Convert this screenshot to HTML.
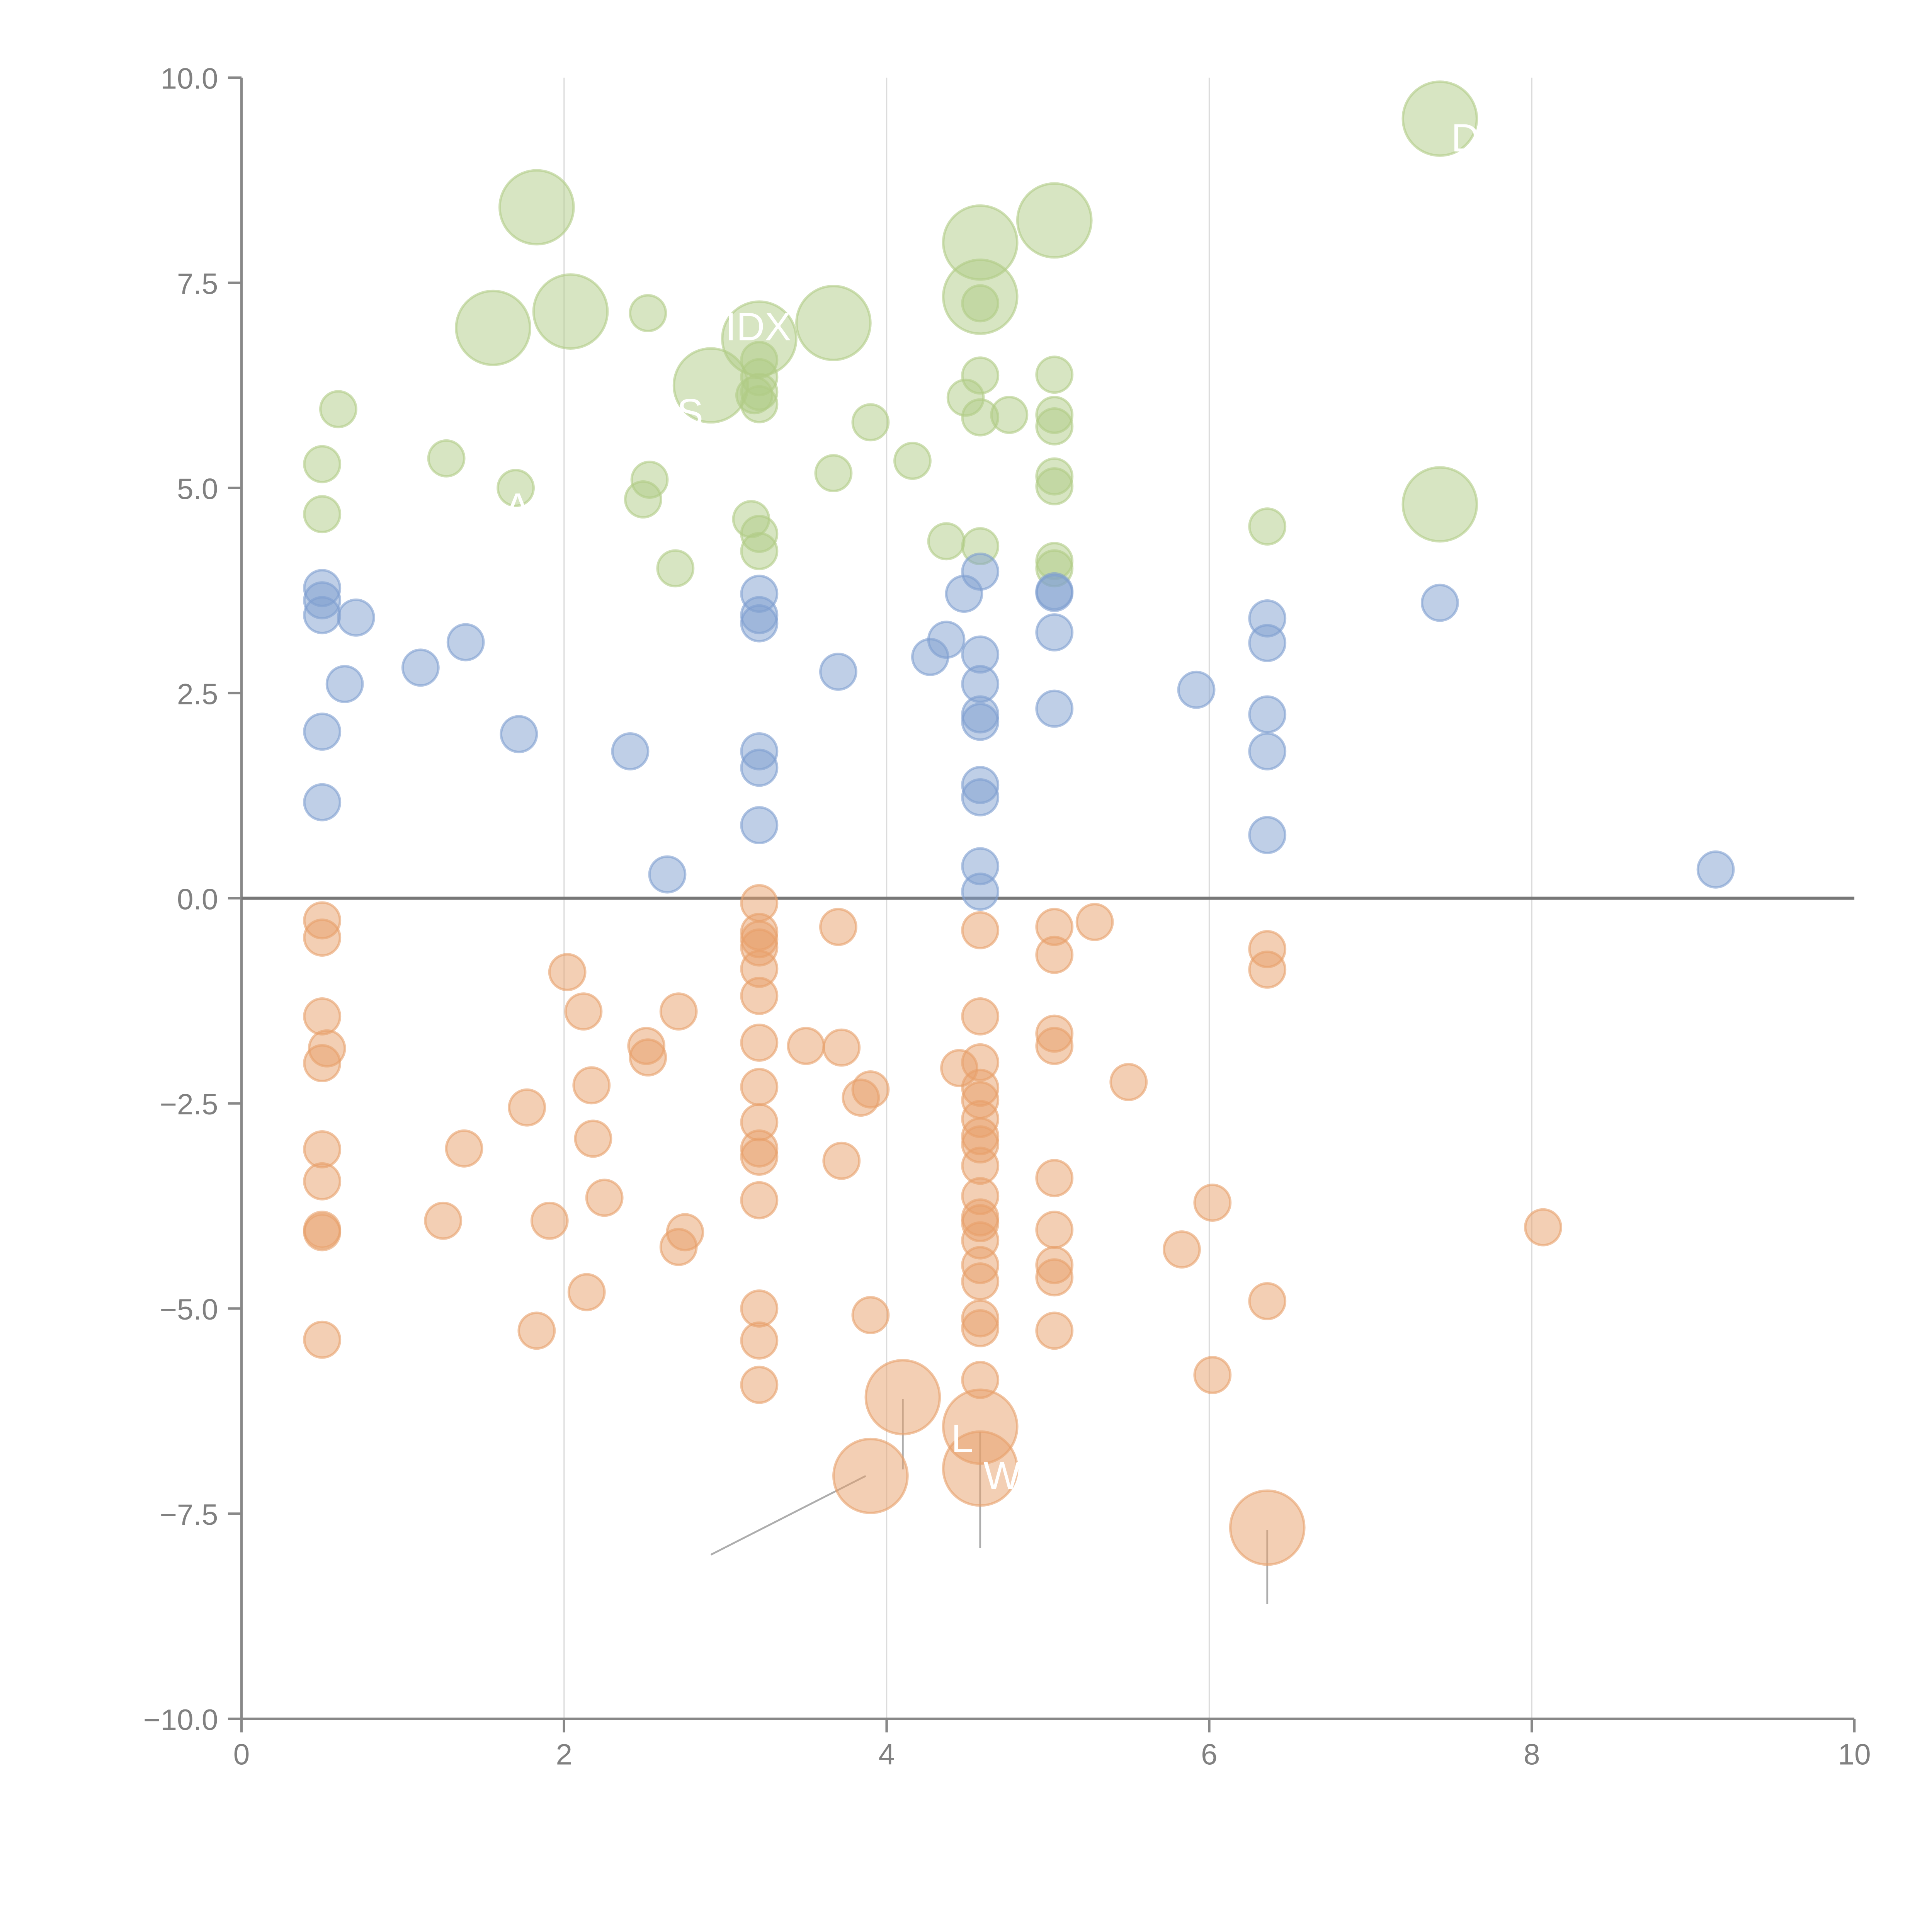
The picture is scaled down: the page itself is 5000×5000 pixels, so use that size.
<!DOCTYPE html>
<html><head><meta charset="utf-8"><style>html,body{margin:0;padding:0;background:#fff}svg{display:block}</style></head>
<body>
<svg id="chart" width="5000" height="5000" viewBox="0 0 1568 1568" xmlns="http://www.w3.org/2000/svg" font-family="'Liberation Sans', sans-serif">
<g id="grid"></g>
<g id="axes"></g>
<g id="annot"></g>
<g id="marks"></g>
<g id="labels"></g>
</svg>
<script>
const xTicks=[0,2,4,6,8,10];
const yTicks=[-10,-7.5,-5,-2.5,0,2.5,5,7.5,10];
const greenX=[0.6,0.5,0.5,1.27,1.7,2.52,2.53,2.49,2.69,3.21,3.21,3.21,3.18,3.21,3.16,3.21,3.21,3.9,3.67,4.16,4.58,4.58,4.49,4.58,4.76,4.37,4.58,5.04,5.04,5.04,5.04,5.04,5.04,5.04,6.36,
 1.83,1.56,2.04,2.91,3.21,3.67,4.58,4.58,5.04,7.43,7.43];
const greenY=[5.96,5.29,4.68,5.36,5.0,7.13,5.1,4.86,4.02,6.56,6.35,6.17,6.13,6.02,4.62,4.44,4.23,5.8,5.18,5.33,7.25,6.37,6.1,5.86,5.89,4.35,4.29,6.38,5.89,5.75,5.14,5.02,4.11,4.02,4.53,
 8.42,6.95,7.15,6.25,6.82,7.01,7.99,7.33,8.26,9.5,4.8];
const greenS=[1,1,1,1,1,1,1,1,1,1,1,1,1,1,1,1,1,1,1,1,1,1,1,1,1,1,1,1,1,1,1,1,1,1,1,2,2,2,2,2,2,2,2,2,2,2];
const blueX=[0.5,0.5,0.5,0.71,0.64,1.11,1.39,0.5,0.5,1.72,2.41,2.64,3.21,3.21,3.21,3.21,3.21,3.21,3.7,4.27,4.37,4.48,4.58,4.58,4.58,4.58,4.58,4.58,4.58,4.58,4.58,5.04,5.04,5.04,5.04,5.92,6.36,6.36,6.36,6.36,6.36,7.43,9.14];
const blueY=[3.78,3.63,3.45,3.42,2.61,2.81,3.12,2.03,1.17,2.0,1.79,0.29,3.71,3.45,3.35,1.79,1.59,0.89,2.76,2.94,3.15,3.71,3.98,2.97,2.61,2.24,2.15,1.38,1.23,0.39,0.08,3.74,3.72,3.24,2.31,2.54,3.41,3.11,2.24,1.79,0.77,3.6,0.35];
const orangeX=[0.5,0.5,0.5,0.53,0.5,0.5,0.5,0.5,0.5,0.5,1.38,1.25,1.77,1.91,1.83,2.02,2.12,2.17,2.18,2.25,2.14,2.51,2.52,2.71,2.75,2.71,
 3.21,3.21,3.21,3.21,3.21,3.21,3.21,3.21,3.21,3.21,3.21,3.21,3.21,3.21,3.21,3.5,3.7,3.72,3.9,3.84,3.72,3.9,4.45,
 4.58,4.58,4.58,4.58,4.58,4.58,4.58,4.58,4.58,4.58,4.58,4.58,4.58,4.58,4.58,4.58,4.58,4.58,
 5.04,5.04,5.04,5.04,5.04,5.04,5.04,5.04,5.04,5.29,5.5,5.83,6.02,6.02,6.36,6.36,6.36,8.07,
 4.1,4.58,3.9,4.58,6.36];
const orangeY=[-0.27,-0.48,-1.44,-1.83,-2.01,-3.06,-3.45,-4.04,-4.07,-5.38,-3.05,-3.93,-2.55,-3.93,-5.27,-0.9,-1.38,-2.28,-2.93,-3.65,-4.8,-1.8,-1.94,-1.38,-4.07,-4.25,
 -0.06,-0.41,-0.5,-0.6,-0.86,-1.19,-1.76,-2.3,-2.73,-3.05,-3.15,-3.68,-5.0,-5.39,-5.93,-1.8,-0.35,-1.82,-2.33,-2.43,-3.2,-5.08,-2.07,
 -0.39,-1.44,-2.0,-2.31,-2.46,-2.69,-2.9,-3.0,-3.26,-3.63,-3.89,-3.96,-4.17,-4.47,-4.67,-5.12,-5.24,-5.87,
 -0.35,-0.69,-1.65,-1.8,-3.41,-4.04,-4.47,-4.62,-5.27,-0.29,-2.24,-4.28,-3.71,-5.81,-0.62,-0.87,-4.91,-4.01,
 -6.08,-6.44,-7.04,-6.95,-7.67];
const orangeS=orangeX.map((v,i)=>i>=orangeX.length-5?2:1);
const leaderFrom=[[2.91,-8.0],[4.1,-6.1],[4.58,-6.5],[6.36,-7.7]];
const leaderTo=[[3.87,-7.04],[4.1,-6.96],[4.58,-7.92],[6.36,-8.6]];

const X0=196,X1=1505,Y0=1395,Y1=63;
const sx=v=>X0+(v-0)/(10-0)*(X1-X0);
const sy=v=>Y0-(v+10)/20*(Y0-Y1);
const NS='http://www.w3.org/2000/svg';
function mk(tag,attrs,parent){const e=document.createElementNS(NS,tag);for(const k in attrs)e.setAttribute(k,attrs[k]);parent.appendChild(e);return e;}
const grid=document.getElementById('grid'),axes=document.getElementById('axes'),marks=document.getElementById('marks'),annot=document.getElementById('annot'),labels=document.getElementById('labels');

xTicks.forEach(t=>{
 if(t>0&&t<10){const g=mk('line',{x1:sx(t),x2:sx(t),y1:sy(10),y2:sy(-10),stroke:'#dcdcdc','stroke-width':1},grid);
 
 }
 const tk=mk('line',{x1:sx(t),x2:sx(t),y1:Y0,y2:Y0+11,stroke:'#888','stroke-width':2},axes);
 
 
 const tx=mk('text',{x:sx(t),y:Y0+37,'text-anchor':'middle','font-size':24,fill:'#808080'},axes);
 tx.textContent=String(t);
 
 
});
yTicks.forEach(t=>{
 const tk=mk('line',{x1:X0-11,x2:X0,y1:sy(t),y2:sy(t),stroke:'#888','stroke-width':2},axes);
 
 
 const tx=mk('text',{x:X0-19,y:sy(t)+9,'text-anchor':'end','font-size':24,fill:'#808080'},axes);
 tx.textContent=(t<0?'\u2212':'')+Math.abs(t).toFixed(1);
 
 
});
const xa=mk('line',{x1:X0,x2:X1,y1:Y0,y2:Y0,stroke:'#888','stroke-width':2},axes);


const ya=mk('line',{x1:X0,x2:X0,y1:Y1,y2:Y0,stroke:'#888','stroke-width':2},axes);


const zl=mk('line',{x1:X0,x2:X1,y1:sy(0),y2:sy(0),stroke:'#777','stroke-width':2.5},axes);



leaderFrom.forEach((p,i)=>{
 const l=mk('line',{x1:sx(p[0]),y1:sy(p[1]),x2:sx(leaderTo[i][0]),y2:sy(leaderTo[i][1]),stroke:'#999','stroke-opacity':0.8,'stroke-width':1.5},annot);
 
 
});

function series(xs,ys,ss,fill,name){
 xs.forEach((x,i)=>{
  const r=(ss?ss[i]:1)===2?30:14.5;
  const c=mk('circle',{cx:sx(x),cy:sy(ys[i]),r:r,fill:fill,'fill-opacity':0.5,stroke:fill,'stroke-opacity':0.6,'stroke-width':2},marks);
  
  
 });
}
series(greenX,greenY,greenS,'#b0cc85','green-bubble');
series(blueX,blueY,null,'#7f9fd0','blue-bubble');
series(orangeX,orangeY,orangeS,'#e8a06a','orange-bubble');

const lblTxt=['L','W','IDX','D','S','A'];
const lblX=[4.4,4.6,3.0,7.5,2.7,1.63];
const lblY=[-6.75,-7.2,6.8,9.1,5.75,4.6];
lblTxt.forEach((t,i)=>{
 const tx=mk('text',{x:sx(lblX[i]),y:sy(lblY[i]),'font-size':32,fill:'#fff'},labels);
 tx.textContent=t;
 
 
});
</script>
</body></html>
